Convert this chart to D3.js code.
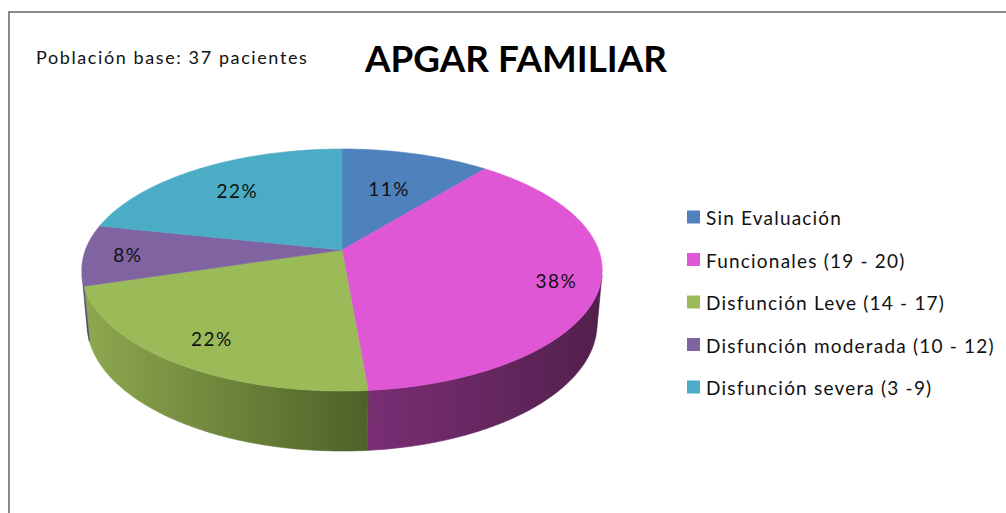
<!DOCTYPE html>
<html>
<head>
<meta charset="utf-8">
<script src="https://cdn.jsdelivr.net/npm/d3@7"></script>
<style>
  html, body { margin:0; padding:0; background:#fff; }
  svg { display:block; }
  text { font-family: Lato, "Open Sans", "Liberation Sans", sans-serif; }
</style>
</head>
<body>
<svg id="chart" width="1006" height="513"></svg>
<script>
/* APGAR FAMILIAR — 3D pie (Excel style), redrawn with D3. */
(function(){
'use strict';

// ---------------------------------------------------------------- data
var CATEGORIES = ['Sin Evaluación', 'Funcionales (19 - 20)', 'Disfunción Leve (14 - 17)',
                  'Disfunción moderada (10 - 12)', 'Disfunción severa (3 -9)'];
var PATIENTS   = [4, 14, 8, 3, 8];          // of 37 -> 11%, 38%, 22%, 8%, 22%
var TOP_COLORS = ['#4f81bd', '#e057d6', '#9bbb59', '#8064a2', '#4bacc6'];
var SIDE_LIGHT = ['#46719f', '#7a2e74', '#8ea84f', '#6a5489', '#3f93aa'];
var SIDE_DARK  = ['#2f4d6e', '#52204d', '#4e6128', '#4a3a62', '#2d6a7b'];
var TITLE      = 'APGAR FAMILIAR';
var SUBTITLE   = 'Población base: 37 pacientes';

// ---------------------------------------------------------- projection
// Unit disk in the X/Z plane (Z points away from the viewer), tilted
// toward the camera and seen in perspective, the way Excel draws it.
// KX squeezes the result a little horizontally to fit the plot area.
var CX = 342, CY = 250, KX = 0.987;
var S = 0.4527, C = 0.8917, D = 5.395, F = 1402.7, H = 0.233;

function proj(a, y){           // a: angle clockwise from 12 o'clock, y: 0 top / -H bottom
    var X = Math.sin(a), Z = Math.cos(a);
    var depth = D + Z*C - y*S, yc = y*C + Z*S;
    return [CX + KX*F*X/depth, CY - F*yc/depth];
}

var svg = d3.select('#chart');
var defs = svg.append('defs');

// frame
svg.append('rect').attr('x',9).attr('y',12).attr('width',1200).attr('height',700)
    .attr('fill','none').attr('stroke','#8a8a8a').attr('stroke-width',2);

// -------------------------------------------------------------- slices
var total = d3.sum(PATIENTS);
var arcs = d3.pie().sort(null)(PATIENTS);

// outer wall faces the camera only where cos(a) < -1/(D*C)
var visA = Math.acos(-1/(D*C)), visB = 2*Math.PI - visA;

function samples(a0, a1){
    var n = Math.max(2, Math.ceil((a1 - a0) / 0.01)), out = [];
    for (var i=0;i<=n;i++) out.push(a0 + (a1 - a0)*i/n);
    return out;
}

var gWall = svg.append('g'), gTop = svg.append('g'), gLab = svg.append('g');

arcs.forEach(function(d, i){
    var a0 = Math.max(d.startAngle, visA), a1 = Math.min(d.endAngle, visB);
    if (a1 <= a0) return;
    var gid = 'side' + i;
    var lg = defs.append('linearGradient').attr('id', gid)
        .attr('x1','0').attr('x2','1').attr('y1','0').attr('y2','0');
    lg.append('stop').attr('offset','0').attr('stop-color', SIDE_LIGHT[i]);
    lg.append('stop').attr('offset','1').attr('stop-color', SIDE_DARK[i]);

    var ang = samples(a0, a1);
    var pts = ang.map(function(a){ return proj(a, 0); })
        .concat(ang.slice().reverse().map(function(a){ return proj(a, -H); }));
    gWall.append('path').attr('d', d3.line()(pts) + 'Z')
        .attr('fill', 'url(#' + gid + ')').attr('stroke', 'url(#' + gid + ')').attr('stroke-width', 0.6);
});

var c0 = [CX, CY];             // centre of the disk lands here
arcs.forEach(function(d, i){
    var pts = [c0].concat(samples(d.startAngle, d.endAngle).map(function(a){ return proj(a, 0); }));
    gTop.append('path').attr('d', d3.line()(pts) + 'Z')
        .attr('fill', TOP_COLORS[i]).attr('stroke', TOP_COLORS[i]).attr('stroke-width', 0.6);
});

// data labels: pulled a fixed distance in from the rim
arcs.forEach(function(d, i){
    var m = (d.startAngle + d.endAngle) / 2, rim = proj(m, 0);
    var dx = c0[0] - rim[0], dy = c0[1] - rim[1], len = Math.sqrt(dx*dx + dy*dy);
    gLab.append('text')
        .attr('x', rim[0] + dx/len*44).attr('y', rim[1] + dy/len*44)
        .attr('text-anchor','middle').attr('dominant-baseline','central')
        .attr('font-size', 19).attr('letter-spacing', 1.5).attr('fill', '#111')
        .text(Math.round(d.value / total * 100) + '%');
});

// -------------------------------------------------------------- titles
svg.append('text').attr('x', 365).attr('y', 72)
    .attr('font-size', 37).attr('font-weight', 700).attr('fill', '#000')
    .attr('textLength', 302).attr('lengthAdjust', 'spacingAndGlyphs')
    .text(TITLE);
svg.append('text').attr('x', 36).attr('y', 64)
    .attr('font-size', 18).attr('letter-spacing', 1.6).attr('fill', '#111')
    .text(SUBTITLE);

// -------------------------------------------------------------- legend
var legY = d3.scalePoint().domain(CATEGORIES).range([216.5, 386.5]);
var leg = svg.append('g').selectAll('g').data(CATEGORIES).join('g')
    .attr('transform', function(c){ return 'translate(687,' + legY(c) + ')'; });
leg.append('rect').attr('x', 0).attr('y', -6).attr('width', 13).attr('height', 13)
    .attr('fill', function(c, i){ return TOP_COLORS[i]; });
leg.append('text').attr('x', 19).attr('y', 1).attr('dominant-baseline', 'central')
    .attr('font-size', 19).attr('letter-spacing', 1.2).attr('fill', '#111')
    .text(function(c){ return c; });
})();
</script>
</body>
</html>
